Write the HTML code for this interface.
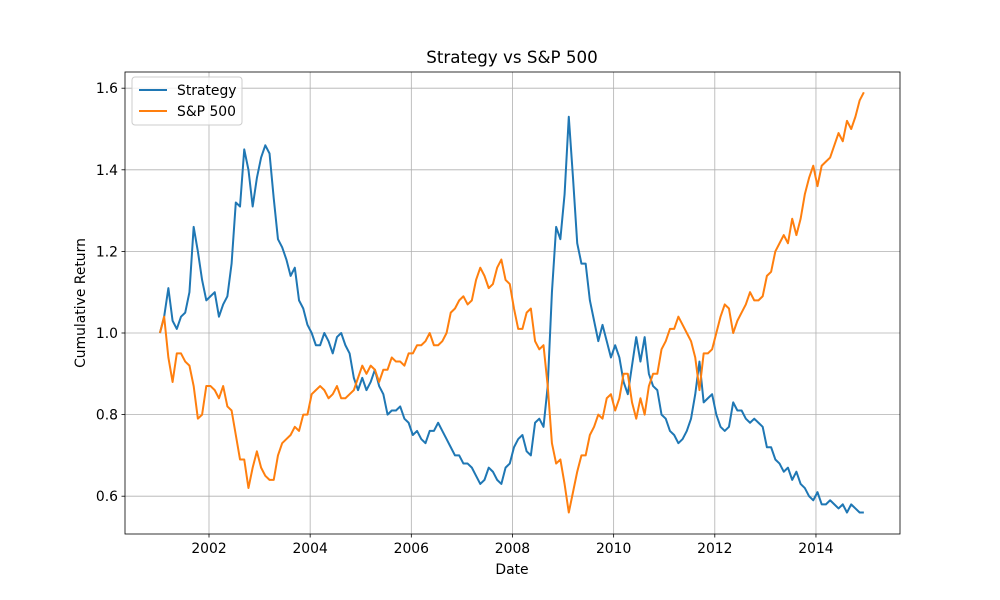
<!DOCTYPE html>
<html><head><meta charset="utf-8"><style>
body{margin:0;background:#fff;}
svg{display:block;font-family:"DejaVu Sans","Liberation Sans",sans-serif;}
</style></head><body>
<svg id="chart" width="1000" height="600" viewBox="0 0 1000 600">
<rect width="1000" height="600" fill="#fff"/>
<g id="grid"></g>
<g id="series"></g>
<rect x="125" y="72" width="775" height="462" fill="none" stroke="#000" stroke-width="0.8"/>
<g id="ticks"></g>
<text x="512" y="63" text-anchor="middle" font-size="16.7">Strategy vs S&amp;P 500</text>
<text x="512" y="574" text-anchor="middle" font-size="13.9">Date</text>
<text x="85" y="303" text-anchor="middle" font-size="13.9" transform="rotate(-90 85 303)">Cumulative Return</text>
<g>
<rect x="132" y="77" width="110" height="48" rx="3" fill="#fff" fill-opacity="0.8" stroke="#ccc"/>
<line x1="139" y1="90" x2="167" y2="90" stroke="#1f77b4" stroke-width="2"/>
<text x="177" y="95" font-size="13.9">Strategy</text>
<line x1="139" y1="111" x2="167" y2="111" stroke="#ff7f0e" stroke-width="2"/>
<text x="177" y="116" font-size="13.9">S&amp;P 500</text>
</g>
</svg>
<script>
const startYear = 2001;
const strategy = [
1.00,1.04,1.11,1.03,1.01,1.04,1.05,1.10,1.26,1.20,1.13,1.08,
1.09,1.10,1.04,1.07,1.09,1.17,1.32,1.31,1.45,1.40,1.31,1.38,
1.43,1.46,1.44,1.33,1.23,1.21,1.18,1.14,1.16,1.08,1.06,1.02,
1.00,0.97,0.97,1.00,0.98,0.95,0.99,1.00,0.97,0.95,0.89,0.86,
0.89,0.86,0.88,0.91,0.87,0.85,0.80,0.81,0.81,0.82,0.79,0.78,
0.75,0.76,0.74,0.73,0.76,0.76,0.78,0.76,0.74,0.72,0.70,0.70,
0.68,0.68,0.67,0.65,0.63,0.64,0.67,0.66,0.64,0.63,0.67,0.68,
0.72,0.74,0.75,0.71,0.70,0.78,0.79,0.77,0.87,1.10,1.26,1.23,
1.34,1.53,1.38,1.22,1.17,1.17,1.08,1.03,0.98,1.02,0.98,0.94,
0.97,0.94,0.88,0.85,0.92,0.99,0.93,0.99,0.90,0.87,0.86,0.80,
0.79,0.76,0.75,0.73,0.74,0.76,0.79,0.85,0.93,0.83,0.84,0.85,
0.80,0.77,0.76,0.77,0.83,0.81,0.81,0.79,0.78,0.79,0.78,0.77,
0.72,0.72,0.69,0.68,0.66,0.67,0.64,0.66,0.63,0.62,0.60,0.59,
0.61,0.58,0.58,0.59,0.58,0.57,0.58,0.56,0.58,0.57,0.56,0.56];
const sp500 = [
1.00,1.04,0.94,0.88,0.95,0.95,0.93,0.92,0.87,0.79,0.80,0.87,
0.87,0.86,0.84,0.87,0.82,0.81,0.75,0.69,0.69,0.62,0.67,0.71,
0.67,0.65,0.64,0.64,0.70,0.73,0.74,0.75,0.77,0.76,0.80,0.80,
0.85,0.86,0.87,0.86,0.84,0.85,0.87,0.84,0.84,0.85,0.86,0.89,
0.92,0.90,0.92,0.91,0.88,0.91,0.91,0.94,0.93,0.93,0.92,0.95,
0.95,0.97,0.97,0.98,1.00,0.97,0.97,0.98,1.00,1.05,1.06,1.08,
1.09,1.07,1.08,1.13,1.16,1.14,1.11,1.12,1.16,1.18,1.13,1.12,
1.06,1.01,1.01,1.05,1.06,0.98,0.96,0.97,0.87,0.73,0.68,0.69,
0.63,0.56,0.61,0.66,0.70,0.70,0.75,0.77,0.80,0.79,0.84,0.85,
0.81,0.84,0.90,0.90,0.83,0.79,0.84,0.80,0.87,0.90,0.90,0.96,
0.98,1.01,1.01,1.04,1.02,1.00,0.98,0.94,0.86,0.95,0.95,0.96,
1.00,1.04,1.07,1.06,1.00,1.03,1.05,1.07,1.10,1.08,1.08,1.09,
1.14,1.15,1.20,1.22,1.24,1.22,1.28,1.24,1.28,1.34,1.38,1.41,
1.36,1.41,1.42,1.43,1.46,1.49,1.47,1.52,1.50,1.53,1.57,1.59];
const xTicks = [2002,2004,2006,2008,2010,2012,2014];
const yTicks = [0.6,0.8,1.0,1.2,1.4,1.6];

const NS="http://www.w3.org/2000/svg";
function xs(t){return 209+(t-2002)*50.58;}
function ys(v){return 333-(v-1)*408;}
function mk(tag,attrs,parent){const e=document.createElementNS(NS,tag);for(const k in attrs)e.setAttribute(k,attrs[k]);parent.appendChild(e);return e;}
const grid=document.getElementById('grid'),ticks=document.getElementById('ticks'),series=document.getElementById('series');
xTicks.forEach(t=>{
  const x=xs(t);
  const g=mk('line',{x1:x,x2:x,y1:72,y2:534,stroke:'#b0b0b0','stroke-width':0.8},grid);
  
  
  const tk=mk('line',{x1:x,x2:x,y1:534,y2:537.5,stroke:'#000','stroke-width':0.8},ticks);
  
  
  const lb=mk('text',{x:x,y:553,'text-anchor':'middle','font-size':13.9},ticks);
  lb.textContent=t;
  
  
});
yTicks.forEach(v=>{
  const y=ys(v);
  const g=mk('line',{x1:125,x2:900,y1:y,y2:y,stroke:'#b0b0b0','stroke-width':0.8},grid);
  
  
  const tk=mk('line',{x1:121.5,x2:125,y1:y,y2:y,stroke:'#000','stroke-width':0.8},ticks);
  
  
  const lb=mk('text',{x:118,y:y+5,'text-anchor':'end','font-size':13.9},ticks);
  lb.textContent=v.toFixed(1);
  
  
});
function line(data,color,name){
  const pts=data.map((v,i)=>xs(startYear+i/12+0.03).toFixed(2)+','+ys(v).toFixed(2)).join(' ');
  const p=mk('polyline',{points:pts,fill:'none',stroke:color,'stroke-width':2,'stroke-linejoin':'round'},series);
  
  
}
line(strategy,'#1f77b4','strategy-line');
line(sp500,'#ff7f0e','sp500-line');
</script>
</body></html>
